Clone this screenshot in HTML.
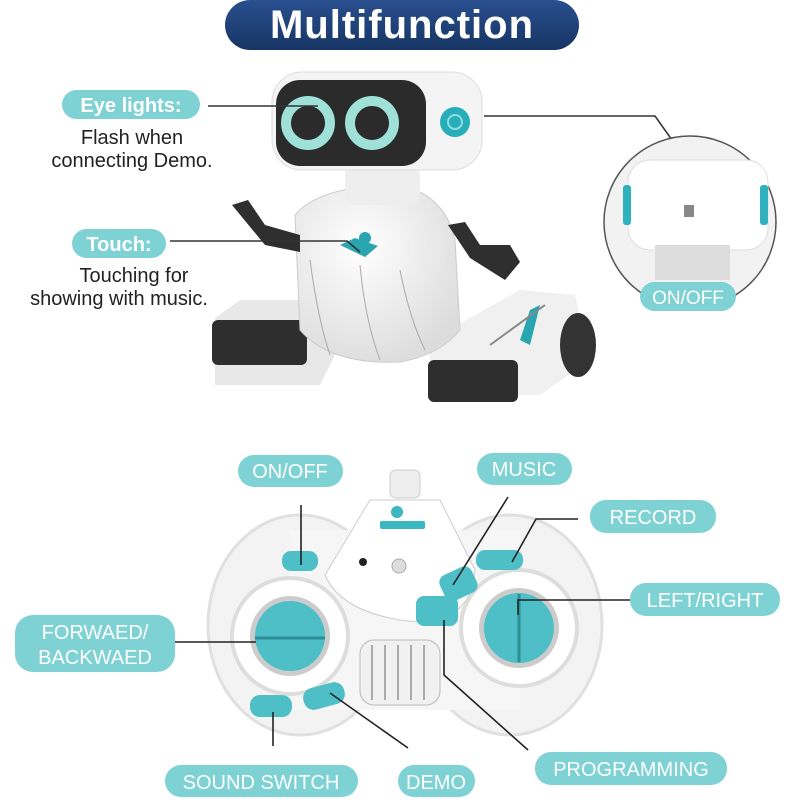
<!DOCTYPE html>
<html><head><meta charset="utf-8"><style>
html,body{margin:0;padding:0;background:#fff;}
body{width:800px;height:800px;overflow:hidden;position:relative;font-family:"Liberation Sans",sans-serif;}
svg{position:absolute;left:0;top:0;}
</style></head><body>
<svg width="800" height="800" viewBox="0 0 800 800" xmlns="http://www.w3.org/2000/svg">
<defs>
<linearGradient id="tg" x1="0" y1="0" x2="0" y2="1"><stop offset="0" stop-color="#2a4f8f"/><stop offset="1" stop-color="#163563"/></linearGradient>
<radialGradient id="wg" cx="0.4" cy="0.35" r="0.7"><stop offset="0" stop-color="#ffffff"/><stop offset="1" stop-color="#dcdcdc"/></radialGradient>
</defs>
<rect x="225" y="0" width="354" height="50" rx="25" fill="url(#tg)"/>
<text x="402" y="38" font-size="40" font-weight="bold" fill="#fff" text-anchor="middle" letter-spacing="1">Multifunction</text>

<g>
<path d="M215 318 L240 300 L330 300 L335 355 L320 385 L215 385 Z" fill="#e8e8e8"/>
<rect x="212" y="320" width="95" height="45" rx="6" fill="#2e2e2e"/>
<path d="M430 340 L520 290 L575 295 L590 360 L540 395 L430 395 Z" fill="#f0f0f0"/>
<rect x="428" y="360" width="90" height="42" rx="6" fill="#2e2e2e"/>
<ellipse cx="578" cy="345" rx="18" ry="32" fill="#333"/>
<path d="M295 215 Q320 185 400 185 Q445 195 455 240 L460 330 Q440 355 400 362 Q330 365 300 330 Z" fill="url(#wg)" stroke="#ccc"/>
<g stroke="#aaa" stroke-width="1" fill="none"><path d="M310 260 Q318 320 330 355"/><path d="M360 265 Q365 320 380 360"/><path d="M400 270 Q410 320 425 350"/></g>
<rect x="345" y="165" width="75" height="40" rx="10" fill="#eee"/>
<path d="M232 205 L248 200 L265 225 L300 235 L300 252 L265 245 Z" fill="#2f2f2f"/>
<path d="M448 225 L465 222 L480 245 L510 245 L520 262 L505 280 L470 258 Z" fill="#2f2f2f"/>
<path d="M340 245 L355 238 L378 246 L365 257 Z" fill="#2aa6b0"/>
<circle cx="365" cy="238" r="6" fill="#2aa6b0"/>
<path d="M520 340 L530 310 L540 305 L530 345 Z" fill="#2aa6b0"/>
<path d="M490 345 L545 305" stroke="#888" stroke-width="2"/>
</g>
<rect x="272" y="72" width="210" height="98" rx="30" fill="#f4f4f4" stroke="#ddd"/>
<rect x="276" y="80" width="150" height="86" rx="24" fill="#2b2b2b"/>
<circle cx="308" cy="123" r="22" fill="none" stroke="#9fe0d8" stroke-width="10"/>
<circle cx="372" cy="123" r="22" fill="none" stroke="#9fe0d8" stroke-width="10"/>
<circle cx="455" cy="122" r="15" fill="#28aebb"/>
<circle cx="455" cy="122" r="7" fill="none" stroke="#8fdbe0" stroke-width="2"/>

<g stroke="#333" stroke-width="1.6" fill="none">
<line x1="208" y1="106" x2="318" y2="106"/>
<polyline points="484,116 655,116 672,140"/>
<polyline points="170,241 347,241 360,252"/>
</g>

<rect x="62" y="90" width="138" height="29" rx="14.5" fill="#7fd2d4"/>
<text x="131" y="112" font-size="20" font-weight="bold" fill="#fff" text-anchor="middle">Eye lights:</text>
<text x="132" y="144" font-size="20" fill="#222" text-anchor="middle">Flash when</text>
<text x="132" y="167" font-size="20" fill="#222" text-anchor="middle">connecting Demo.</text>
<rect x="72" y="229" width="94" height="29" rx="14.5" fill="#7fd2d4"/>
<text x="119" y="251" font-size="20" font-weight="bold" fill="#fff" text-anchor="middle">Touch:</text>
<text x="134" y="282" font-size="20" fill="#222" text-anchor="middle">Touching for</text>
<text x="119" y="305" font-size="20" fill="#222" text-anchor="middle">showing with music.</text>

<circle cx="690" cy="222" r="86" fill="#f2f2f2" stroke="#555" stroke-width="1.5"/>
<rect x="628" y="160" width="140" height="90" rx="22" fill="#fff" stroke="#ddd"/>
<rect x="623" y="185" width="8" height="40" rx="3" fill="#2fb2bd"/>
<rect x="760" y="185" width="8" height="40" rx="3" fill="#2fb2bd"/>
<rect x="684" y="205" width="10" height="12" fill="#888"/>
<rect x="655" y="245" width="75" height="35" fill="#ddd"/>
<rect x="640" y="282" width="96" height="29" rx="14.5" fill="#7fd2d4"/>
<text x="688" y="304" font-size="19" fill="#fff" text-anchor="middle">ON/OFF</text>

<ellipse cx="300" cy="625" rx="92" ry="110" fill="#f3f3f3" stroke="#e0e0e0" stroke-width="3"/>
<ellipse cx="510" cy="625" rx="92" ry="110" fill="#f3f3f3" stroke="#e0e0e0" stroke-width="3"/>
<rect x="290" y="530" width="230" height="180" fill="#f6f6f6"/>
<path d="M325 575 L370 500 L440 500 L475 570 Q470 630 400 620 Q340 610 325 575 Z" fill="#fff" stroke="#ccc"/>
<rect x="390" y="470" width="30" height="28" rx="6" fill="#eee" stroke="#ccc"/>
<rect x="380" y="521" width="45" height="8" rx="2" fill="#3ab7c0"/>
<circle cx="397" cy="512" r="6" fill="#3ab7c0"/>
<circle cx="363" cy="562" r="4" fill="#222"/>
<circle cx="399" cy="566" r="7" fill="#ddd" stroke="#aaa"/>
<circle cx="290" cy="636" r="58" fill="#fff" stroke="#ddd" stroke-width="4"/>
<circle cx="290" cy="636" r="40" fill="#ccc"/>
<circle cx="290" cy="636" r="35" fill="#4ebfc7"/>
<line x1="255" y1="638" x2="325" y2="638" stroke="#2d8e96" stroke-width="3"/>
<circle cx="519" cy="628" r="58" fill="#fff" stroke="#ddd" stroke-width="4"/>
<circle cx="519" cy="628" r="40" fill="#ccc"/>
<circle cx="519" cy="628" r="35" fill="#4ebfc7"/>
<line x1="519" y1="594" x2="519" y2="662" stroke="#2d8e96" stroke-width="3"/>
<rect x="360" y="640" width="80" height="65" rx="14" fill="#f1f1f1" stroke="#bbb"/>
<g stroke="#aaa" stroke-width="2"><line x1="372" y1="645" x2="372" y2="700"/><line x1="385" y1="645" x2="385" y2="700"/><line x1="398" y1="645" x2="398" y2="700"/><line x1="411" y1="645" x2="411" y2="700"/><line x1="424" y1="645" x2="424" y2="700"/></g>
<rect x="282" y="551" width="36" height="20" rx="9" fill="#4ebfc7"/>
<rect x="476" y="550" width="47" height="20" rx="9" fill="#4ebfc7"/>
<rect x="441" y="570" width="35" height="28" rx="8" fill="#4ebfc7" transform="rotate(-25 458 584)"/>
<rect x="416" y="596" width="42" height="30" rx="8" fill="#4ebfc7"/>
<rect x="250" y="695" width="42" height="22" rx="10" fill="#4ebfc7"/>
<rect x="303" y="685" width="42" height="22" rx="10" fill="#4ebfc7" transform="rotate(-15 324 696)"/>

<g stroke="#222" stroke-width="1.6" fill="none">
<line x1="301" y1="505" x2="301" y2="565"/>
<line x1="508" y1="497" x2="453" y2="585"/>
<polyline points="578,519 536,519 512,562"/>
<polyline points="630,600 518,600 518,615 M518,603 L505,603 505,634 M518,603 L531,603 531,634"/>
<polyline points="175,642 256,642 M256,631 L256,656 M256,631 L266,631 M256,656 L266,656"/>
<line x1="273" y1="712" x2="273" y2="746"/>
<line x1="330" y1="693" x2="408" y2="748"/>
<polyline points="444,620 444,675 528,750"/>
</g>

<g font-size="20" fill="#fff" text-anchor="middle">
<rect x="238" y="455" width="105" height="32" rx="16" fill="#7fd2d4"/><text x="290" y="478">ON/OFF</text>
<rect x="477" y="453" width="95" height="32" rx="16" fill="#7fd2d4"/><text x="524" y="476">MUSIC</text>
<rect x="590" y="500" width="126" height="33" rx="16" fill="#7fd2d4"/><text x="653" y="524">RECORD</text>
<rect x="630" y="583" width="150" height="33" rx="16" fill="#7fd2d4"/><text x="705" y="607">LEFT/RIGHT</text>
<rect x="15" y="615" width="160" height="57" rx="18" fill="#7fd2d4"/><text x="95" y="639">FORWAED/</text><text x="95" y="664">BACKWAED</text>
<rect x="165" y="765" width="193" height="32" rx="16" fill="#7fd2d4"/><text x="261" y="789">SOUND SWITCH</text>
<rect x="398" y="765" width="77" height="32" rx="16" fill="#7fd2d4"/><text x="436" y="789">DEMO</text>
<rect x="535" y="752" width="192" height="33" rx="16" fill="#7fd2d4"/><text x="631" y="776">PROGRAMMING</text>
</g>
</svg>
</body></html>
